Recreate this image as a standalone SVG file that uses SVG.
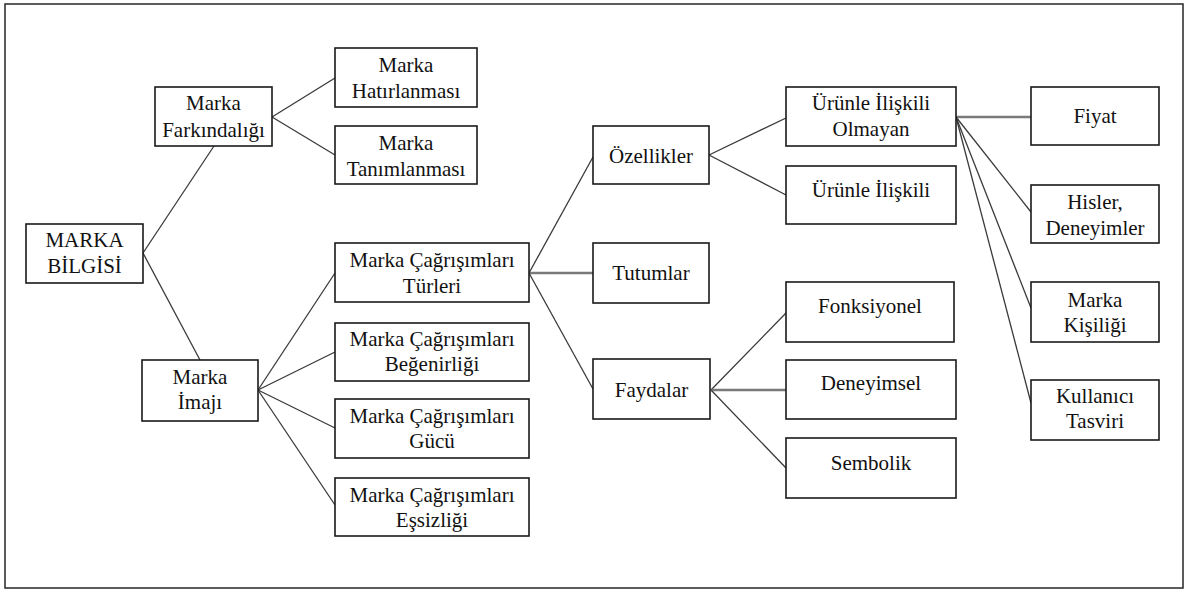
<svg xmlns="http://www.w3.org/2000/svg" width="1190" height="590" viewBox="0 0 1190 590">
  <style>
    .box { fill: #ffffff; stroke: #1a1a1a; stroke-width: 1.6; }
    .lbl { font-family: 'Liberation Serif', 'DejaVu Serif', 'Times New Roman', serif; font-size: 21px; fill: #111111; text-anchor: middle; }
    .link { stroke: #3a3a3a; stroke-width: 1.3; fill: none; }
    .flat { stroke: #7a7a7a; stroke-width: 2.4; fill: none; }
  </style>

  <rect x="0" y="0" width="1190" height="590" fill="#ffffff"/>
  <!-- outer frame -->
  <rect x="5" y="4" width="1178" height="584" fill="none" stroke="#333333" stroke-width="1.6"/>

  <!-- connectors -->
  <g id="connectors">
    <line class="link" x1="143" y1="253" x2="214" y2="146"/>
    <line class="link" x1="143" y1="253" x2="200" y2="360"/>
    <line class="link" x1="272" y1="117" x2="335" y2="78"/>
    <line class="link" x1="272" y1="117" x2="335" y2="155"/>
    <line class="link" x1="258" y1="390" x2="335" y2="273"/>
    <line class="link" x1="258" y1="390" x2="335" y2="352"/>
    <line class="link" x1="258" y1="390" x2="335" y2="428"/>
    <line class="link" x1="258" y1="390" x2="335" y2="505"/>
    <line class="link" x1="529" y1="273" x2="593" y2="157"/>
    <line class="flat" x1="529" y1="273" x2="593" y2="273"/>
    <line class="link" x1="529" y1="273" x2="593" y2="389"/>
    <line class="link" x1="709" y1="155" x2="786" y2="118"/>
    <line class="link" x1="709" y1="155" x2="786" y2="195"/>
    <line class="link" x1="711" y1="390" x2="786" y2="313"/>
    <line class="flat" x1="711" y1="390" x2="786" y2="390"/>
    <line class="link" x1="711" y1="390" x2="786" y2="468"/>
    <line class="flat" x1="956" y1="117" x2="1031" y2="117"/>
    <line class="link" x1="956" y1="117" x2="1031" y2="212"/>
    <line class="link" x1="956" y1="117" x2="1031" y2="308"/>
    <line class="link" x1="956" y1="117" x2="1031" y2="403"/>
  </g>

  <!-- nodes -->
  <g font-family="Liberation Serif, DejaVu Serif, serif">
  <g id="marka-bilgisi">
    <rect class="box" x="26" y="224" width="117" height="59"/>
    <text class="lbl" x="84.5" y="247">MARKA</text>
    <text class="lbl" x="84.5" y="273">BİLGİSİ</text>
  </g>
  <g id="marka-farkindaligi">
    <rect class="box" x="155" y="87" width="117" height="59"/>
    <text class="lbl" x="213.5" y="110">Marka</text>
    <text class="lbl" x="213.5" y="137">Farkındalığı</text>
  </g>
  <g id="marka-hatirlanmasi">
    <rect class="box" x="335" y="48" width="142" height="59"/>
    <text class="lbl" x="406" y="72">Marka</text>
    <text class="lbl" x="406" y="98">Hatırlanması</text>
  </g>
  <g id="marka-tanimlanmasi">
    <rect class="box" x="335" y="126" width="142" height="58"/>
    <text class="lbl" x="406" y="150">Marka</text>
    <text class="lbl" x="406" y="176">Tanımlanması</text>
  </g>
  <g id="marka-imaji">
    <rect class="box" x="142" y="360" width="116" height="61"/>
    <text class="lbl" x="200" y="384">Marka</text>
    <text class="lbl" x="200" y="409">İmajı</text>
  </g>
  <g id="cagrisim-turleri">
    <rect class="box" x="335" y="243" width="194" height="59"/>
    <text class="lbl" x="432" y="267">Marka Çağrışımları</text>
    <text class="lbl" x="432" y="293">Türleri</text>
  </g>
  <g id="cagrisim-begenirligi">
    <rect class="box" x="335" y="323" width="194" height="58"/>
    <text class="lbl" x="432" y="346">Marka Çağrışımları</text>
    <text class="lbl" x="432" y="371">Beğenirliği</text>
  </g>
  <g id="cagrisim-gucu">
    <rect class="box" x="335" y="399" width="194" height="59"/>
    <text class="lbl" x="432" y="423">Marka Çağrışımları</text>
    <text class="lbl" x="432" y="448">Gücü</text>
  </g>
  <g id="cagrisim-essizligi">
    <rect class="box" x="335" y="478" width="194" height="58"/>
    <text class="lbl" x="432" y="502">Marka Çağrışımları</text>
    <text class="lbl" x="432" y="527">Eşsizliği</text>
  </g>
  <g id="ozellikler">
    <rect class="box" x="593" y="126" width="116" height="58"/>
    <text class="lbl" x="651" y="163">Özellikler</text>
  </g>
  <g id="tutumlar">
    <rect class="box" x="593" y="243" width="116" height="60"/>
    <text class="lbl" x="651" y="280">Tutumlar</text>
  </g>
  <g id="faydalar">
    <rect class="box" x="593" y="359" width="117" height="60"/>
    <text class="lbl" x="651.5" y="397">Faydalar</text>
  </g>
  <g id="urunle-iliskili-olmayan">
    <rect class="box" x="786" y="87" width="170" height="59"/>
    <text class="lbl" x="871" y="110">Ürünle İlişkili</text>
    <text class="lbl" x="871" y="136">Olmayan</text>
  </g>
  <g id="urunle-iliskili">
    <rect class="box" x="786" y="166" width="170" height="58"/>
    <text class="lbl" x="871" y="197">Ürünle İlişkili</text>
  </g>
  <g id="fonksiyonel">
    <rect class="box" x="786" y="282" width="168" height="60"/>
    <text class="lbl" x="870" y="313">Fonksiyonel</text>
  </g>
  <g id="deneyimsel">
    <rect class="box" x="786" y="360" width="170" height="59"/>
    <text class="lbl" x="871" y="390">Deneyimsel</text>
  </g>
  <g id="sembolik">
    <rect class="box" x="786" y="438" width="170" height="60"/>
    <text class="lbl" x="871" y="470">Sembolik</text>
  </g>
  <g id="fiyat">
    <rect class="box" x="1031" y="87" width="128" height="58"/>
    <text class="lbl" x="1095" y="123">Fiyat</text>
  </g>
  <g id="hisler-deneyimler">
    <rect class="box" x="1031" y="185" width="128" height="58"/>
    <text class="lbl" x="1095" y="209">Hisler,</text>
    <text class="lbl" x="1095" y="235">Deneyimler</text>
  </g>
  <g id="marka-kisiligi">
    <rect class="box" x="1031" y="282" width="128" height="60"/>
    <text class="lbl" x="1095" y="307">Marka</text>
    <text class="lbl" x="1095" y="332">Kişiliği</text>
  </g>
  <g id="kullanici-tasviri">
    <rect class="box" x="1031" y="380" width="128" height="60"/>
    <text class="lbl" x="1095" y="403">Kullanıcı</text>
    <text class="lbl" x="1095" y="428">Tasviri</text>
  </g>
  </g>
</svg>
